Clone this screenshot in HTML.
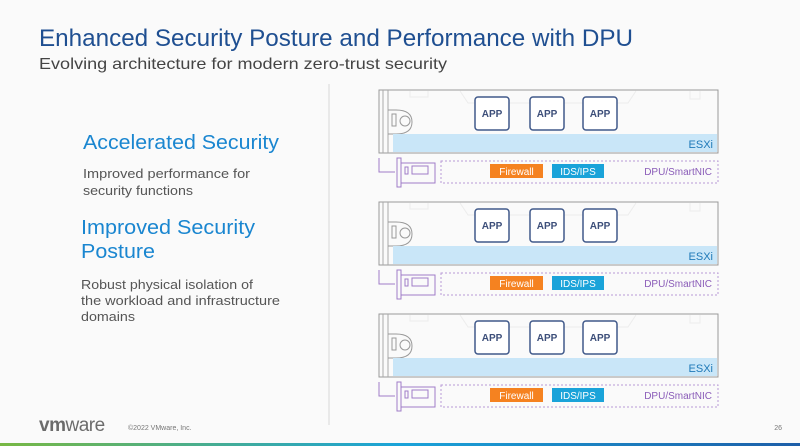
<!DOCTYPE html>
<html><head><style>
body{margin:0;background:#fafafa;}
svg{display:block;font-family:"Liberation Sans",sans-serif;}
</style></head><body>
<svg width="800" height="446" viewBox="0 0 800 446">
<rect width="800" height="446" fill="#fafafa"/>
<text x="39" y="46" font-size="24" fill="#1f4f91" textLength="594" lengthAdjust="spacingAndGlyphs">Enhanced Security Posture and Performance with DPU</text>
<text x="39" y="69" font-size="16" fill="#444" textLength="408" lengthAdjust="spacingAndGlyphs">Evolving architecture for modern zero-trust security</text>
<line x1="329" y1="84" x2="329" y2="425" stroke="#d8d8d8" stroke-width="1"/>
<text x="83" y="149" font-size="20" fill="#1a86d0" textLength="196" lengthAdjust="spacingAndGlyphs">Accelerated Security</text>
<text x="83" y="178" font-size="12.5" fill="#555" textLength="167" lengthAdjust="spacingAndGlyphs">Improved performance for</text>
<text x="83" y="195" font-size="12.5" fill="#555" textLength="110" lengthAdjust="spacingAndGlyphs">security functions</text>
<text x="81" y="234" font-size="20" fill="#1a86d0" textLength="174" lengthAdjust="spacingAndGlyphs">Improved Security</text>
<text x="81" y="258" font-size="20" fill="#1a86d0" textLength="74" lengthAdjust="spacingAndGlyphs">Posture</text>
<text x="81" y="289" font-size="12.5" fill="#555" textLength="172" lengthAdjust="spacingAndGlyphs">Robust physical isolation of</text>
<text x="81" y="305" font-size="12.5" fill="#555" textLength="199" lengthAdjust="spacingAndGlyphs">the workload and infrastructure</text>
<text x="81" y="321" font-size="12.5" fill="#555" textLength="54" lengthAdjust="spacingAndGlyphs">domains</text>
<defs>
<g id="srv">
<rect x="379" y="90" width="339" height="63" fill="#fafafa" stroke="#999" stroke-width="1"/>
<line x1="383" y1="90" x2="383" y2="153" stroke="#aaa"/>
<line x1="388" y1="90" x2="388" y2="153" stroke="#aaa"/>
<path d="M410 91 v6 h18 v-6 M460 91 l8 12 h160 l8 -12 M690 91 v8 h10 v-8" fill="none" stroke="#ececec"/>
<path d="M388 110 h8 q16 0 16 12 q0 12 -16 12 h-8" fill="none" stroke="#999"/>
<rect x="392" y="114" width="4" height="12" fill="none" stroke="#999"/>
<circle cx="405" cy="121" r="5" fill="none" stroke="#999"/>
<rect x="393" y="134" width="324" height="18" fill="#c9e6f8"/>
<text x="713" y="148" font-size="11" fill="#1f79b8" text-anchor="end">ESXi</text>
<g fill="#fff" stroke="#40598a" stroke-width="1.5" >
<rect x="475" y="97" width="34" height="33" rx="3"/>
<rect x="530" y="97" width="34" height="33" rx="3"/>
<rect x="583" y="97" width="34" height="33" rx="3"/>
</g>
<g font-size="10" font-weight="bold" fill="#3d4f7a" text-anchor="middle">
<text x="492" y="117">APP</text><text x="547" y="117">APP</text><text x="600" y="117">APP</text>
</g>
<path d="M379 158 v14 h16" fill="none" stroke="#a07cc8"/>
<rect x="397" y="158" width="4" height="29" fill="none" stroke="#a07cc8"/>
<rect x="401" y="163" width="34" height="20" fill="none" stroke="#a07cc8"/>
<rect x="412" y="166" width="16" height="8" fill="none" stroke="#a07cc8"/>
<rect x="405" y="167" width="3" height="7" fill="none" stroke="#a07cc8"/>
<rect x="441" y="161" width="277" height="22" fill="none" stroke="#b89ad6" stroke-dasharray="2 2"/>
<rect x="490" y="164" width="53" height="14" fill="#f58220"/>
<text x="516.5" y="175" font-size="10" fill="#fff" text-anchor="middle">Firewall</text>
<rect x="552" y="164" width="52" height="14" fill="#1aa3d9"/>
<text x="578" y="175" font-size="10" fill="#fff" text-anchor="middle">IDS/IPS</text>
<text x="712" y="175" font-size="10" fill="#8a5cb8" text-anchor="end">DPU/SmartNIC</text>
</g>
</defs>
<use href="#srv"/>
<use href="#srv" y="112"/>
<use href="#srv" y="224"/>
<text x="39" y="431" font-size="19" font-weight="bold" fill="#6b6b6b" letter-spacing="-0.5">vm<tspan font-weight="normal">ware</tspan></text>
<text x="128" y="430" font-size="7" fill="#777">©2022 VMware, Inc.</text>
<text x="782" y="430" font-size="7" fill="#777" text-anchor="end">26</text>
<defs><linearGradient id="g" x1="0" x2="1"><stop offset="0" stop-color="#78b843"/><stop offset="0.5" stop-color="#1aa3d9"/><stop offset="1" stop-color="#1d5ea8"/></linearGradient></defs>
<rect x="0" y="443" width="800" height="3" fill="url(#g)"/>
</svg>
</body></html>
